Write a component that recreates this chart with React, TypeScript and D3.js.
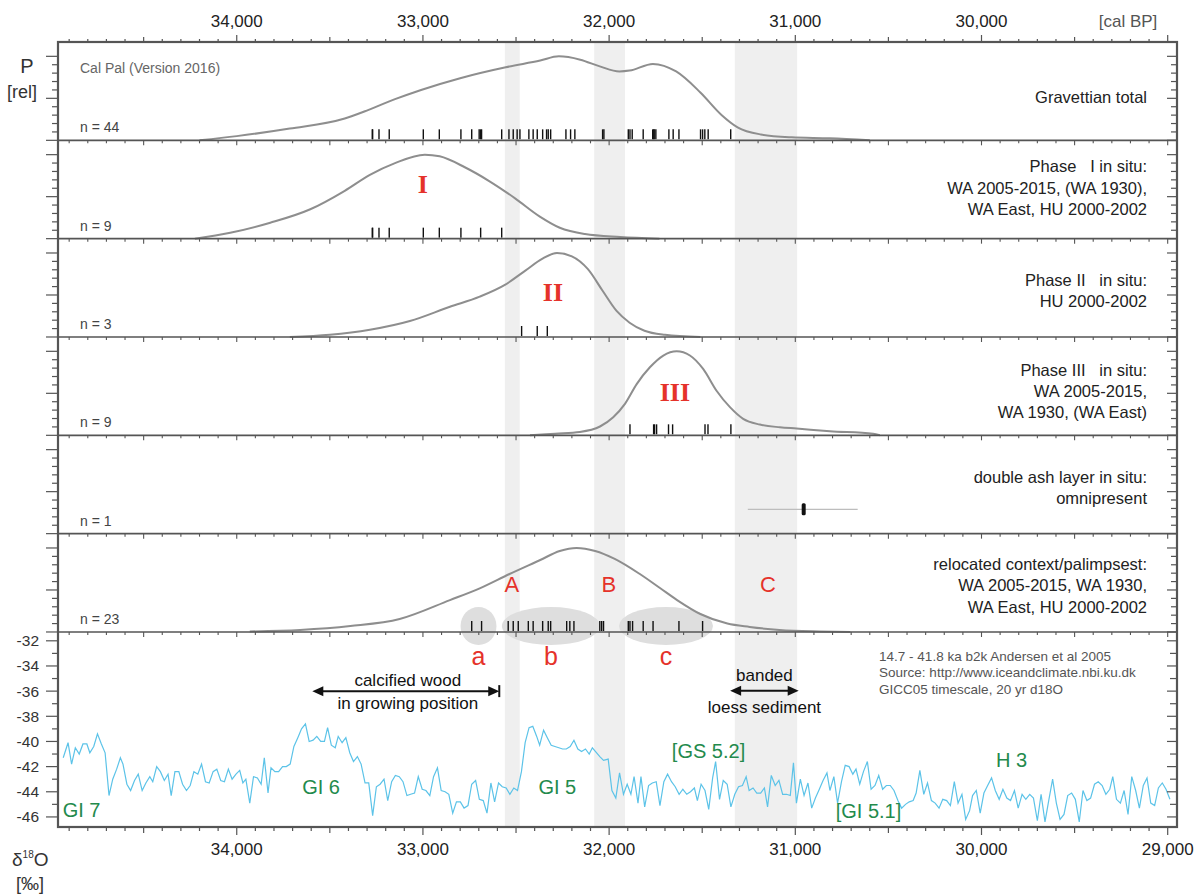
import React, { useEffect, useRef } from 'react';
import * as d3 from 'd3';

// ---- data ----
const topTickYears = [34000, 33000, 32000, 31000, 30000];
const bottomTickYears = [34000, 33000, 32000, 31000, 30000, 29000];

// shaded windows A, B, C  [older, younger] cal BP
const bands = [
  [32560, 32480],
  [32080, 31915],
  [31325, 30990],
];
const bandLetters = ['A', 'B', 'C'];
const bandLetterYears = [32522, 32001, 31147];

// summed probability curves [cal BP, relative P]
const totalCurve = [
  [34200, 0.0], [34000, 0.05], [33715, 0.14], [33420, 0.26], [33295, 0.36], [33150, 0.49],
  [33010, 0.6], [32800, 0.74], [32555, 0.87], [32370, 0.95], [32270, 1.0], [32155, 0.96],
  [32050, 0.88], [31945, 0.82], [31890, 0.83], [31765, 0.91], [31640, 0.82], [31510, 0.57],
  [31395, 0.3], [31310, 0.155], [31185, 0.07], [31020, 0.036], [30815, 0.024], [30600, 0.0],
];
const phase1Curve = [
  [34225, 0.0], [34035, 0.07], [33820, 0.19], [33605, 0.35], [33420, 0.57], [33285, 0.76],
  [33150, 0.9], [32990, 1.0], [32910, 0.98], [32775, 0.85], [32640, 0.68], [32505, 0.48],
  [32370, 0.26], [32265, 0.13], [32130, 0.055], [31940, 0.02], [31730, 0.0],
];
const phase2Curve = [
  [33715, 0.0], [33500, 0.026], [33285, 0.086], [33070, 0.19], [32855, 0.36], [32695, 0.48],
  [32560, 0.62], [32450, 0.79], [32360, 0.93], [32280, 1.0], [32200, 0.96], [32115, 0.81],
  [32035, 0.55], [31960, 0.31], [31890, 0.17], [31810, 0.074], [31700, 0.026], [31510, 0.0],
];
const phase3Curve = [
  [32425, 0.0], [32290, 0.02], [32157, 0.04], [32049, 0.105], [31978, 0.215], [31915, 0.375],
  [31852, 0.61], [31781, 0.81], [31709, 0.95], [31637, 1.0], [31566, 0.95], [31495, 0.79],
  [31423, 0.53], [31351, 0.335], [31280, 0.196], [31190, 0.128], [31083, 0.096],
  [30993, 0.081], [30814, 0.049], [30582, 0.018], [30546, 0.0],
];
const relocatedCurve = [
  [33930, 0.006], [33660, 0.024], [33390, 0.071], [33125, 0.155], [32855, 0.38], [32695, 0.52],
  [32535, 0.69], [32370, 0.857], [32265, 0.964], [32175, 1.0], [32075, 0.964], [31970, 0.87],
  [31835, 0.69], [31725, 0.52], [31635, 0.38], [31510, 0.214], [31365, 0.1], [31245, 0.06],
  [31085, 0.024], [30870, 0.006], [30705, 0.0],
];

// single dates (rug)
const totalDates = [
  33272, 33270, 33236, 33181, 32998, 32912, 32796, 32738, 32698, 32690, 32685, 32577, 32538,
  32515, 32494, 32479, 32431, 32408, 32386, 32357, 32336, 32327, 32314, 32232, 32207, 32184,
  32035, 32028, 31897, 31888, 31876, 31817, 31766, 31760, 31758, 31749, 31679, 31656, 31625,
  31509, 31498, 31486, 31468, 31347,
];
const phase1Dates = [33272, 33270, 33236, 33181, 32998, 32912, 32796, 32690, 32577];
const phase2Dates = [32470, 32386, 32332];
const phase3Dates = [31888, 31761, 31756, 31745, 31681, 31659, 31485, 31469, 31346];
const ashDate = 30955;
const ashRange = [31255, 30665];
const relocatedDates = [
  32738, 32685,
  32542, 32515, 32488, 32434, 32408, 32357, 32327, 32314, 32228, 32211, 32189, 32050, 32040, 32030,
  31897, 31888, 31874, 31817, 31764, 31625, 31498,
];

// clusters a, b, c of the relocated dates
const clusterSpans = [
  [32798, 32605],
  [32576, 32049],
  [31947, 31442],
];
const clusterLetters = ['a', 'b', 'c'];

const panelLabels = [
  ['Gravettian total'],
  ['Phase   I in situ:', 'WA 2005-2015, (WA 1930),', 'WA East, HU 2000-2002'],
  ['Phase II   in situ:', 'HU 2000-2002'],
  ['Phase III   in situ:', 'WA 2005-2015,', 'WA 1930, (WA East)'],
  ['double ash layer in situ:', 'omnipresent'],
  ['relocated context/palimpsest:', 'WA 2005-2015, WA 1930,', 'WA East, HU 2000-2002'],
];
const romanLabels = ['', 'I', 'II', 'III', '', ''];
const romanYears = [0, 33000, 32302, 31647, 0, 0];
const romanP = [0, 0.54, 0.43, 0.41, 0, 0];

// NGRIP d18O, 20 yr  [yr BP, permil]
const d18O = [
  [34932, -41.3], [34906, -40.1], [34887, -41.8], [34867, -40.5], [34846, -41.0], [34826, -40.2],
  [34805, -40.2], [34789, -40.9], [34768, -40.4], [34748, -39.4], [34727, -40.2], [34707, -40.9],
  [34686, -44.3], [34666, -43.0], [34645, -42.2], [34625, -41.3], [34611, -41.8], [34590, -43.4],
  [34570, -43.9], [34549, -43.1], [34529, -42.6], [34508, -43.9], [34488, -43.3], [34467, -42.8],
  [34451, -43.2], [34430, -42.0], [34410, -42.4], [34389, -43.1], [34369, -42.6], [34352, -44.3],
  [34332, -42.4], [34311, -42.4], [34291, -43.4], [34270, -43.9], [34250, -43.5], [34230, -42.4],
  [34209, -42.6], [34189, -41.8], [34168, -43.2], [34148, -43.3], [34127, -42.4], [34107, -42.2],
  [34086, -43.1], [34066, -43.2], [34045, -42.2], [34025, -43.0], [34004, -42.6], [33984, -42.3],
  [33967, -43.3], [33951, -43.0], [33930, -44.9], [33910, -42.8], [33889, -42.9], [33869, -43.4],
  [33852, -41.3], [33832, -44.1], [33816, -42.1], [33795, -42.4], [33775, -42.4], [33754, -42.0],
  [33734, -42.0], [33713, -41.8], [33693, -40.4], [33672, -39.7], [33652, -39.0], [33631, -38.6],
  [33611, -40.0], [33590, -39.9], [33570, -39.6], [33549, -40.0], [33529, -40.0], [33512, -38.9],
  [33492, -40.3], [33471, -40.5], [33455, -39.6], [33434, -40.1], [33414, -39.7], [33393, -40.9],
  [33373, -41.6], [33352, -41.2], [33332, -41.8], [33311, -43.3], [33291, -43.3], [33270, -45.9],
  [33250, -43.6], [33230, -43.4], [33209, -43.0], [33189, -44.7], [33168, -43.2], [33148, -42.7],
  [33127, -42.8], [33107, -43.2], [33086, -44.3], [33066, -44.2], [33045, -44.1], [33025, -42.8],
  [33004, -43.8], [32984, -43.9], [32963, -44.3], [32943, -42.8], [32922, -42.1], [32902, -43.9],
  [32881, -44.0], [32861, -44.2], [32840, -45.7], [32820, -44.8], [32799, -44.8], [32779, -45.3],
  [32758, -45.1], [32738, -43.4], [32717, -43.1], [32697, -44.6], [32676, -44.7], [32656, -45.7],
  [32635, -43.3], [32615, -44.8], [32594, -43.3], [32574, -43.6], [32553, -43.7], [32533, -44.2],
  [32512, -43.7], [32492, -43.9], [32471, -42.4], [32451, -40.1], [32430, -38.9], [32410, -38.8],
  [32389, -39.6], [32373, -40.3], [32352, -39.1], [32332, -39.7], [32311, -40.3], [32291, -40.4],
  [32270, -40.5], [32250, -40.6], [32230, -40.6], [32209, -40.4], [32189, -39.9], [32168, -40.6],
  [32148, -40.8], [32127, -40.6], [32107, -41.0], [32090, -40.5], [32050, -41.2], [32030, -41.5],
  [32005, -41.4], [31985, -43.9], [31964, -44.5], [31944, -42.5], [31923, -44.2], [31903, -43.4],
  [31883, -44.2], [31866, -42.8], [31845, -44.9], [31829, -42.8], [31809, -45.2], [31788, -43.5],
  [31768, -43.3], [31747, -43.2], [31727, -45.1], [31706, -43.2], [31686, -42.6], [31665, -43.2],
  [31645, -43.6], [31624, -44.2], [31604, -43.8], [31583, -44.2], [31563, -44.0], [31542, -43.7],
  [31526, -44.7], [31506, -43.4], [31485, -43.9], [31465, -45.4], [31444, -42.9], [31428, -41.6],
  [31407, -44.6], [31387, -43.1], [31366, -43.4], [31346, -45.2], [31325, -44.2], [31305, -43.6],
  [31284, -43.5], [31264, -42.8], [31248, -43.9], [31227, -43.7], [31207, -44.1], [31186, -44.1],
  [31166, -43.7], [31149, -45.2], [31129, -42.7], [31108, -43.5], [31088, -43.1], [31068, -44.2],
  [31047, -44.2], [31027, -44.3], [31010, -41.7], [30994, -44.9], [30973, -43.0], [30953, -44.3],
  [30932, -43.3], [30912, -45.3], [30892, -44.5], [30871, -43.8], [30851, -43.1], [30830, -42.5],
  [30814, -43.9], [30793, -42.8], [30773, -44.9], [30752, -43.2], [30732, -41.9], [30711, -42.0],
  [30691, -42.6], [30674, -42.2], [30654, -43.4], [30634, -42.4], [30613, -41.6], [30593, -43.8],
  [30572, -43.5], [30552, -42.7], [30531, -43.8], [30511, -43.5], [30490, -43.5], [30470, -43.9],
  [30449, -44.7], [30429, -45.3], [30408, -45.0], [30388, -44.8], [30367, -44.7], [30351, -44.1],
  [30331, -42.3], [30310, -44.2], [30290, -43.3], [30269, -44.7], [30249, -44.9], [30228, -45.3],
  [30208, -44.6], [30187, -44.7], [30167, -45.1], [30146, -43.2], [30126, -44.9], [30105, -44.2],
  [30085, -46.2], [30064, -45.5], [30048, -44.3], [30028, -43.9], [30007, -45.7], [29987, -44.1],
  [29967, -43.5], [29946, -42.9], [29926, -43.9], [29905, -44.6], [29885, -43.8], [29864, -44.5],
  [29844, -44.7], [29823, -43.9], [29803, -45.3], [29782, -44.2], [29762, -44.6], [29741, -44.2],
  [29721, -44.5], [29700, -46.3], [29680, -44.2], [29659, -46.4], [29639, -44.7], [29618, -43.0],
  [29598, -44.9], [29578, -46.2], [29557, -45.8], [29537, -44.3], [29516, -44.1], [29496, -44.6],
  [29475, -46.4], [29455, -43.9], [29434, -44.7], [29414, -44.5], [29393, -43.4], [29373, -43.2],
  [29352, -43.5], [29332, -44.2], [29311, -43.8], [29295, -42.8], [29275, -44.6], [29254, -44.9],
  [29234, -43.9], [29213, -45.8], [29193, -42.8], [29172, -43.9], [29152, -45.3], [29131, -43.5],
  [29111, -42.9], [29091, -44.9], [29070, -45.1], [29050, -43.7], [29029, -43.3], [29009, -43.8],
  [28988, -44.6],
];
const d18OTicks = [-32, -34, -36, -38, -40, -42, -44, -46];

// stadial / interstadial names [text, yr BP, permil]
const stageLabels = [
  ['GI 7', 34935, -46.0, 'start'],
  ['GI 6', 33547, -44.15, 'middle'],
  ['GI 5', 32278, -44.15, 'middle'],
  ['[GS 5.2]', 31466, -41.35, 'middle'],
  ['[GI 5.1]', 30607, -46.1, 'middle'],
  ['H 3', 29839, -42.0, 'middle'],
];
const sourceLines = [
  '14.7 - 41.8 ka b2k Andersen et al 2005',
  'Source: http://www.iceandclimate.nbi.ku.dk',
  'GICC05 timescale, 20 yr d18O',
];
const woodArrow = [33594, 32590];
const loessArrow = [31350, 30982];

// ---- layout ----
const W = 1201;
const H = 894;
const left = 58;
const right = 1177;
const top = 42;
const panelH = 98.33;
const isoTop = 632;
const isoBottom = 827;
const pHeight = 84;
const FONT = "'Liberation Sans', Arial, Helvetica, sans-serif";
const RED = '#e5322a';
const GREEN = '#238a4c';
const FRAME = '#555';
const labelOffsets = [55, 26, 41, 33, 41.5, 30.5];

export default function App() {
  const ref = useRef<SVGSVGElement>(null);

  useEffect(() => {
    const svg = d3.select(ref.current);
    svg.selectAll('*').remove();

    const x = d3.scaleLinear().domain([34960, 28950]).range([left, right]);
    const yIso = d3.scaleLinear().domain([-31.3, -46.8]).range([isoTop, isoBottom]);
    const base = (i: number) => top + (i + 1) * panelH;
    const pY = (i: number, p: number) => base(i) - p * pHeight;

    const g = svg.append('g').attr('font-family', FONT);

    // shaded time windows
    g.selectAll('rect.band')
      .data(bands)
      .enter()
      .append('rect')
      .attr('x', (d) => x(d[0]))
      .attr('width', (d) => x(d[1]) - x(d[0]))
      .attr('y', top)
      .attr('height', isoBottom - top)
      .attr('fill', '#efefef');

    // cluster ellipses a, b, c
    g.selectAll('ellipse')
      .data(clusterSpans)
      .enter()
      .append('ellipse')
      .attr('cx', (d) => (x(d[0]) + x(d[1])) / 2)
      .attr('cy', base(5) - 6)
      .attr('rx', (d) => (x(d[1]) - x(d[0])) / 2)
      .attr('ry', 19)
      .attr('fill', '#dedede');

    // probability curves
    const curves = [totalCurve, phase1Curve, phase2Curve, phase3Curve, null, relocatedCurve];
    const dates = [totalDates, phase1Dates, phase2Dates, phase3Dates, [ashDate], relocatedDates];
    curves.forEach((c, i) => {
      if (!c) return;
      const line = d3
        .line<number[]>()
        .x((d) => x(d[0]))
        .y((d) => pY(i, d[1]))
        .curve(d3.curveMonotoneX);
      g.append('path')
        .datum(c)
        .attr('fill', 'none')
        .attr('stroke', '#8e8e8e')
        .attr('stroke-width', 2)
        .attr('d', line);
    });

    // rugs
    dates.forEach((ds, i) => {
      if (i === 4) return;
      g.append('g')
        .selectAll('line')
        .data(ds)
        .enter()
        .append('line')
        .attr('x1', (d) => x(d))
        .attr('x2', (d) => x(d))
        .attr('y1', base(i) - 1)
        .attr('y2', base(i) - 11)
        .attr('stroke', '#111')
        .attr('stroke-width', 1.4);
    });

    // double ash layer: range + date
    const ashY = pY(4, 0.29);
    g.append('line')
      .attr('x1', x(ashRange[0]))
      .attr('x2', x(ashRange[1]))
      .attr('y1', ashY)
      .attr('y2', ashY)
      .attr('stroke', '#bdbdbd')
      .attr('stroke-width', 1.2);
    g.append('rect')
      .attr('x', x(ashDate) - 2)
      .attr('y', ashY - 6)
      .attr('width', 4)
      .attr('height', 12)
      .attr('rx', 1.5)
      .attr('fill', '#111');

    // d18O curve
    const isoLine = d3
      .line<number[]>()
      .x((d) => x(d[0]))
      .y((d) => yIso(d[1]));
    g.append('path')
      .datum(d18O)
      .attr('fill', 'none')
      .attr('stroke', '#5cc3e8')
      .attr('stroke-width', 1.2)
      .attr('d', isoLine);

    // ---- frame and ticks ----
    const frame = g.append('g').attr('stroke', FRAME).attr('fill', 'none');
    const hundreds = d3.range(29000, 35000, 100);

    hundreds.forEach((yr) => {
      const len = yr % 1000 === 0 ? 7 : yr % 500 === 0 ? 5 : 3;
      frame.append('line').attr('x1', x(yr)).attr('x2', x(yr)).attr('y1', top).attr('y2', top - len).attr('stroke-width', 1.2);
      const lb = yr % 1000 === 0 ? 8 : yr % 500 === 0 ? 6 : 4;
      frame.append('line').attr('x1', x(yr)).attr('x2', x(yr)).attr('y1', isoBottom).attr('y2', isoBottom + lb).attr('stroke-width', 1.2);
      for (let k = 1; k <= 6; k++) {
        const yy = top + k * panelH;
        const l = yr % 500 === 0 ? 5 : 3;
        frame.append('line').attr('x1', x(yr)).attr('x2', x(yr)).attr('y1', yy).attr('y2', yy + l).attr('stroke-width', 1.1);
      }
    });

    // panel separators
    for (let k = 1; k <= 6; k++) {
      const yy = top + k * panelH;
      frame.append('line').attr('x1', left).attr('x2', right).attr('y1', yy).attr('y2', yy).attr('stroke-width', 1.7);
    }
    frame
      .append('rect')
      .attr('x', left)
      .attr('y', top)
      .attr('width', right - left)
      .attr('height', isoBottom - top)
      .attr('stroke-width', 2.2);

    // relative P ticks
    const pTicks = d3.range(0, 11).map((v) => v / 10);
    for (let i = 0; i < 6; i++) {
      pTicks.forEach((p, j) => {
        const yy = pY(i, p);
        const long = j % 5 === 0;
        frame.append('line').attr('x1', left).attr('x2', left - (long ? 12 : 6)).attr('y1', yy).attr('y2', yy).attr('stroke-width', 1.2);
        frame.append('line').attr('x1', right).attr('x2', right - (long ? 10 : 6)).attr('y1', yy).attr('y2', yy).attr('stroke-width', 1.2);
      });
    }

    // d18O ticks
    d3.range(-32, -46.5, -1).forEach((v) => {
      const long = v % 2 === 0;
      frame.append('line').attr('x1', left).attr('x2', left - (long ? 12 : 6)).attr('y1', yIso(v)).attr('y2', yIso(v)).attr('stroke-width', 1.2);
      frame.append('line').attr('x1', right).attr('x2', right - (long ? 10 : 7)).attr('y1', yIso(v)).attr('y2', yIso(v)).attr('stroke-width', 1.2);
    });

    // ---- text ----
    const fmt = d3.format(',');
    g.selectAll('text.top')
      .data(topTickYears)
      .enter()
      .append('text')
      .attr('x', (d) => x(d))
      .attr('y', 27)
      .attr('text-anchor', 'middle')
      .attr('font-size', 17)
      .attr('fill', '#222')
      .text((d) => fmt(d));
    g.append('text').attr('x', 1128).attr('y', 27).attr('text-anchor', 'middle').attr('font-size', 17).attr('fill', '#555').text('[cal BP]');

    g.selectAll('text.bottom')
      .data(bottomTickYears)
      .enter()
      .append('text')
      .attr('x', (d) => x(d))
      .attr('y', 855)
      .attr('text-anchor', 'middle')
      .attr('font-size', 17)
      .attr('fill', '#222')
      .text((d) => fmt(d));

    g.selectAll('text.iso')
      .data(d18OTicks)
      .enter()
      .append('text')
      .attr('x', 39)
      .attr('y', (d) => yIso(d) + 5.5)
      .attr('text-anchor', 'end')
      .attr('font-size', 15.5)
      .attr('fill', '#333')
      .text((d) => String(d));

    // axis titles
    g.append('text').attr('x', 27).attr('y', 73).attr('text-anchor', 'middle').attr('font-size', 20).attr('fill', '#333').text('P');
    g.append('text').attr('x', 22).attr('y', 98).attr('text-anchor', 'middle').attr('font-size', 18).attr('fill', '#333').text('[rel]');
    const d18 = g.append('text').attr('x', 12).attr('y', 866).attr('font-size', 19).attr('fill', '#333');
    d18.append('tspan').text('δ');
    d18.append('tspan').attr('font-size', 10).attr('dy', -8).text('18');
    d18.append('tspan').attr('dy', 8).text('O');
    g.append('text').attr('x', 30).attr('y', 890).attr('text-anchor', 'middle').attr('font-size', 18).attr('fill', '#333').text('[‰]');

    g.append('text').attr('x', 80).attr('y', 73).attr('font-size', 14).attr('fill', '#666').text('Cal Pal (Version 2016)');

    // panel labels and n
    panelLabels.forEach((lines, i) => {
      const t0 = top + i * panelH + labelOffsets[i];
      lines.forEach((s, j) => {
        g.append('text')
          .attr('x', 1147)
          .attr('y', t0 + j * 21.2 + 6)
          .attr('text-anchor', 'end')
          .attr('font-size', 16.5)
          .attr('fill', '#222')
          .style('white-space', 'pre')
          .text(s);
      });
      g.append('text')
        .attr('x', 80)
        .attr('y', base(i) - 8)
        .attr('font-size', 14)
        .attr('fill', '#444')
        .text(`n = ${dates[i].length}`);
      if (romanLabels[i]) {
        g.append('text')
          .attr('x', x(romanYears[i]))
          .attr('y', pY(i, romanP[i]))
          .attr('text-anchor', 'middle')
          .attr('font-family', "'Liberation Serif', 'Times New Roman', serif")
          .attr('font-weight', 'bold')
          .attr('font-size', 26)
          .attr('fill', RED)
          .text(romanLabels[i]);
      }
    });

    // band letters A B C
    g.selectAll('text.band')
      .data(bandLetters)
      .enter()
      .append('text')
      .attr('x', (d, i) => x(bandLetterYears[i]))
      .attr('y', pY(5, 0.48))
      .attr('text-anchor', 'middle')
      .attr('font-size', 22)
      .attr('fill', RED)
      .text((d) => d);

    // cluster letters a b c
    g.selectAll('text.cluster')
      .data(clusterLetters)
      .enter()
      .append('text')
      .attr('x', (d, i) => (x(clusterSpans[i][0]) + x(clusterSpans[i][1])) / 2)
      .attr('y', yIso(-33.9))
      .attr('text-anchor', 'middle')
      .attr('font-size', 25)
      .attr('fill', RED)
      .text((d) => d);

    // stage labels
    stageLabels.forEach(([s, yr, v, anchor]) => {
      g.append('text')
        .attr('x', x(yr as number))
        .attr('y', yIso(v as number))
        .attr('text-anchor', anchor as string)
        .attr('font-size', 20)
        .attr('fill', GREEN)
        .text(s as string);
    });

    // source text
    sourceLines.forEach((s, i) => {
      g.append('text')
        .attr('x', x(30550))
        .attr('y', yIso(-33.58 - i * 1.31))
        .attr('font-size', 13.5)
        .attr('fill', '#555')
        .text(s);
    });

    // arrows
    const head = (xTip: number, yy: number, dir: number) =>
      `M${xTip},${yy} L${xTip - dir * 11},${yy - 5} L${xTip - dir * 11},${yy + 5} Z`;
    const wy = yIso(-36.0);
    g.append('line').attr('x1', x(woodArrow[0]) + 8).attr('x2', x(woodArrow[1]) - 8).attr('y1', wy).attr('y2', wy).attr('stroke', '#111').attr('stroke-width', 2);
    g.append('path').attr('d', head(x(woodArrow[0]), wy, -1)).attr('fill', '#111');
    g.append('path').attr('d', head(x(woodArrow[1]), wy, 1)).attr('fill', '#111');
    g.append('line').attr('x1', x(woodArrow[1])).attr('x2', x(woodArrow[1])).attr('y1', wy - 6).attr('y2', wy + 6).attr('stroke', '#111').attr('stroke-width', 2);
    const woodX = (x(woodArrow[0]) + x(woodArrow[1])) / 2;
    g.append('text').attr('x', woodX + 2).attr('y', yIso(-35.6)).attr('text-anchor', 'middle').attr('font-size', 17).attr('fill', '#111').text('calcified wood');
    g.append('text').attr('x', woodX + 2).attr('y', yIso(-37.45)).attr('text-anchor', 'middle').attr('font-size', 17).attr('fill', '#111').text('in growing position');

    const ly = yIso(-35.96);
    g.append('line').attr('x1', x(loessArrow[0]) + 8).attr('x2', x(loessArrow[1]) - 8).attr('y1', ly).attr('y2', ly).attr('stroke', '#111').attr('stroke-width', 2);
    g.append('path').attr('d', head(x(loessArrow[0]), ly, -1)).attr('fill', '#111');
    g.append('path').attr('d', head(x(loessArrow[1]), ly, 1)).attr('fill', '#111');
    const loessX = (x(loessArrow[0]) + x(loessArrow[1])) / 2;
    g.append('text').attr('x', loessX).attr('y', yIso(-35.17)).attr('text-anchor', 'middle').attr('font-size', 17).attr('fill', '#111').text('banded');
    g.append('text').attr('x', loessX).attr('y', yIso(-37.72)).attr('text-anchor', 'middle').attr('font-size', 17).attr('fill', '#111').text('loess sediment');
  }, []);

  return (
    <div>
      <style>{'body{margin:0}'}</style>
      <svg ref={ref} width={W} height={H} style={{ display: 'block', background: '#fff' }} />
    </div>
  );
}
